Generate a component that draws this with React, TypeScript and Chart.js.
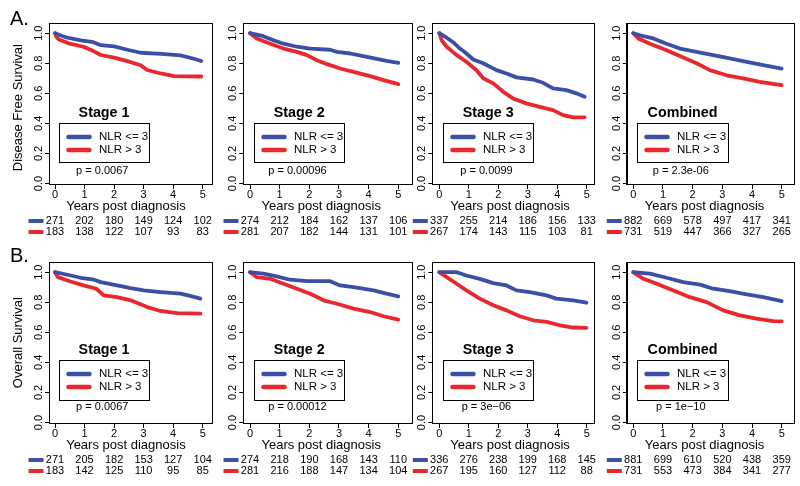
import React, { useEffect, useRef } from 'react';
import { Chart, registerables } from 'chart.js';

Chart.register(...registerables);

const FONT = '"Liberation Sans", Arial, Helvetica, sans-serif';
const BLUE = '#3b4fa6';
const RED = '#e8282c';

// ---------- labels ----------
const YEAR_TICKS = [0, 1, 2, 3, 4, 5];
const YEAR_TICK_LABELS = ['0', '1', '2', '3', '4', '5'];
const SURV_TICKS = [0, 0.2, 0.4, 0.6, 0.8, 1.0];
const SURV_TICK_LABELS = ['0.0', '0.2', '0.4', '0.6', '0.8', '1.0'];
const PANEL_TITLES = ['Stage 1', 'Stage 2', 'Stage 3', 'Combined'];
const ROW_LETTERS = ['A.', 'B.'];
const ROW_Y_TITLES = ['Disease Free Survival', 'Overall Survival'];
const LEGEND_LABELS = ['NLR <= 3', 'NLR > 3'];
const X_TITLE = 'Years post diagnosis';
const P_VALUES_DFS = ['p = 0.0067', 'p = 0.00096', 'p = 0.0099', 'p = 2.3e-06'];
const P_VALUES_OS = ['p = 0.0067', 'p = 0.00012', 'p = 3e\u221206', 'p = 1e\u221210'];

// ---------- curves: [years, survival] ----------
const dfsStage1Low = [[0, 1.0], [0.2, 0.985], [0.42, 0.97], [0.87, 0.953], [1.3, 0.94], [1.55, 0.92], [2.0, 0.912], [2.45, 0.89], [2.9, 0.87], [3.6, 0.862], [4.25, 0.852], [4.7, 0.83], [4.95, 0.815]];
const dfsStage1High = [[0, 1.0], [0.05, 0.975], [0.12, 0.96], [0.5, 0.93], [0.96, 0.91], [1.24, 0.887], [1.55, 0.855], [2.0, 0.838], [2.45, 0.814], [2.9, 0.787], [3.12, 0.755], [3.58, 0.732], [4.03, 0.715], [4.95, 0.712]];
const dfsStage2Low = [[0, 1.0], [0.45, 0.98], [0.79, 0.953], [1.13, 0.93], [1.58, 0.91], [2.03, 0.898], [2.7, 0.89], [2.93, 0.876], [3.38, 0.865], [3.94, 0.842], [4.6, 0.816], [5.0, 0.803]];
const dfsStage2High = [[0, 1.0], [0.23, 0.965], [0.68, 0.93], [1.13, 0.898], [1.58, 0.876], [1.92, 0.854], [2.25, 0.82], [2.6, 0.794], [3.04, 0.765], [3.49, 0.743], [4.05, 0.714], [4.5, 0.688], [5.0, 0.661]];
const dfsStage3Low = [[0, 1.0], [0.25, 0.97], [0.47, 0.94], [0.7, 0.898], [0.92, 0.865], [1.15, 0.825], [1.49, 0.8], [1.94, 0.754], [2.28, 0.732], [2.62, 0.706], [3.18, 0.692], [3.52, 0.67], [3.86, 0.633], [4.31, 0.621], [4.65, 0.6], [4.93, 0.577]];
const dfsStage3High = [[0, 1.0], [0.08, 0.953], [0.25, 0.91], [0.59, 0.854], [0.92, 0.81], [1.26, 0.754], [1.49, 0.7], [1.83, 0.666], [2.17, 0.61], [2.5, 0.566], [2.95, 0.533], [3.4, 0.51], [3.86, 0.488], [4.2, 0.455], [4.54, 0.44], [4.93, 0.44]];
const dfsCombinedLow = [[0, 1.0], [0.34, 0.98], [0.67, 0.965], [1.12, 0.93], [1.57, 0.898], [2.13, 0.876], [2.69, 0.854], [3.25, 0.832], [3.82, 0.81], [4.38, 0.787], [5.0, 0.765]];
const dfsCombinedHigh = [[0, 1.0], [0.17, 0.965], [0.56, 0.93], [1.12, 0.887], [1.68, 0.838], [2.13, 0.8], [2.58, 0.754], [3.14, 0.72], [3.7, 0.7], [4.26, 0.676], [5.0, 0.654]];

const osStage1Low = [[0, 1.0], [0.42, 0.983], [0.87, 0.963], [1.32, 0.95], [1.55, 0.934], [2.1, 0.912], [2.56, 0.894], [3.0, 0.879], [3.57, 0.868], [4.25, 0.857], [4.64, 0.839], [4.92, 0.824]];
const osStage1High = [[0, 1.0], [0.1, 0.967], [0.5, 0.94], [0.96, 0.912], [1.4, 0.89], [1.65, 0.846], [2.1, 0.834], [2.56, 0.813], [3.12, 0.768], [3.57, 0.742], [4.13, 0.728], [4.92, 0.724]];
const osStage2Low = [[0, 1.0], [0.45, 0.99], [0.9, 0.972], [1.35, 0.95], [1.92, 0.94], [2.7, 0.94], [3.04, 0.912], [3.49, 0.9], [4.17, 0.879], [4.6, 0.857], [5.0, 0.839]];
const osStage2High = [[0, 1.0], [0.23, 0.967], [0.68, 0.956], [1.13, 0.923], [1.58, 0.89], [2.03, 0.857], [2.48, 0.813], [2.93, 0.79], [3.49, 0.758], [4.05, 0.735], [4.5, 0.707], [5.0, 0.685]];
const osStage3Low = [[0, 1.0], [0.59, 1.0], [0.92, 0.978], [1.37, 0.956], [1.83, 0.927], [2.28, 0.912], [2.62, 0.879], [3.07, 0.868], [3.64, 0.846], [3.97, 0.824], [4.54, 0.813], [4.99, 0.797]];
const osStage3High = [[0, 1.0], [0.25, 0.967], [0.59, 0.923], [0.92, 0.879], [1.37, 0.824], [1.83, 0.78], [2.28, 0.746], [2.73, 0.707], [3.18, 0.68], [3.64, 0.669], [4.09, 0.647], [4.54, 0.632], [4.99, 0.63]];
const osCombinedLow = [[0, 1.0], [0.56, 0.99], [1.12, 0.963], [1.68, 0.934], [2.25, 0.917], [2.69, 0.89], [3.25, 0.874], [3.82, 0.852], [4.38, 0.834], [5.0, 0.808]];
const osCombinedHigh = [[0, 1.0], [0.34, 0.956], [0.79, 0.923], [1.35, 0.879], [1.91, 0.834], [2.47, 0.801], [3.03, 0.746], [3.59, 0.713], [4.15, 0.691], [4.71, 0.675], [5.0, 0.673]];

// ---------- numbers at risk ----------
const dfsRiskStage1Low = [271, 202, 180, 149, 124, 102];
const dfsRiskStage1High = [183, 138, 122, 107, 93, 83];
const dfsRiskStage2Low = [274, 212, 184, 162, 137, 106];
const dfsRiskStage2High = [281, 207, 182, 144, 131, 101];
const dfsRiskStage3Low = [337, 255, 214, 186, 156, 133];
const dfsRiskStage3High = [267, 174, 143, 115, 103, 81];
const dfsRiskCombinedLow = [882, 669, 578, 497, 417, 341];
const dfsRiskCombinedHigh = [731, 519, 447, 366, 327, 265];
const osRiskStage1Low = [271, 205, 182, 153, 127, 104];
const osRiskStage1High = [183, 142, 125, 110, 95, 85];
const osRiskStage2Low = [274, 218, 190, 168, 143, 110];
const osRiskStage2High = [281, 216, 188, 147, 134, 104];
const osRiskStage3Low = [336, 276, 238, 199, 168, 145];
const osRiskStage3High = [267, 195, 160, 127, 112, 88];
const osRiskCombinedLow = [881, 699, 610, 520, 438, 359];
const osRiskCombinedHigh = [731, 553, 473, 384, 341, 277];

// ---------- layout ----------
const CANVAS_W = 800;
const CANVAS_H = 247;
const AREA_TOP = 23.3;
const AREA_BOTTOM = 184;
const Y_MIN = -0.0033;
const Y_MAX = 1.0659;
const COLS = [
  { left: 49, right: 212, zeroPx: 55, fivePx: 202.7 },
  { left: 243.3, right: 412.3, zeroPx: 250, fivePx: 398.3 },
  { left: 432.3, right: 594.3, zeroPx: 439.3, fivePx: 586.7 },
  { left: 626.7, right: 794, zeroPx: 633.3, fivePx: 781.7 },
];
const ROWS = [
  { top: 0, letterBaseline: 25, yTitleShift: 4, titleS: 0.467, boxTopS: 0.405, boxBotS: 0.146, pS: 0.083 },
  { top: 239, letterBaseline: 22.7, yTitleShift: 0, titleS: 0.481, boxTopS: 0.416, boxBotS: 0.152, pS: 0.106 },
];

const PANELS = [
  { row: 0, col: 0, low: dfsStage1Low, high: dfsStage1High, riskLow: dfsRiskStage1Low, riskHigh: dfsRiskStage1High, p: P_VALUES_DFS[0] },
  { row: 0, col: 1, low: dfsStage2Low, high: dfsStage2High, riskLow: dfsRiskStage2Low, riskHigh: dfsRiskStage2High, p: P_VALUES_DFS[1] },
  { row: 0, col: 2, low: dfsStage3Low, high: dfsStage3High, riskLow: dfsRiskStage3Low, riskHigh: dfsRiskStage3High, p: P_VALUES_DFS[2] },
  { row: 0, col: 3, low: dfsCombinedLow, high: dfsCombinedHigh, riskLow: dfsRiskCombinedLow, riskHigh: dfsRiskCombinedHigh, p: P_VALUES_DFS[3] },
  { row: 1, col: 0, low: osStage1Low, high: osStage1High, riskLow: osRiskStage1Low, riskHigh: osRiskStage1High, p: P_VALUES_OS[0] },
  { row: 1, col: 1, low: osStage2Low, high: osStage2High, riskLow: osRiskStage2Low, riskHigh: osRiskStage2High, p: P_VALUES_OS[1] },
  { row: 1, col: 2, low: osStage3Low, high: osStage3High, riskLow: osRiskStage3Low, riskHigh: osRiskStage3High, p: P_VALUES_OS[2] },
  { row: 1, col: 3, low: osCombinedLow, high: osCombinedHigh, riskLow: osRiskCombinedLow, riskHigh: osRiskCombinedHigh, p: P_VALUES_OS[3] },
];

function makeAnnotations(panel: any) {
  const row = ROWS[panel.row];
  return {
    id: 'kmAnnotations',
    afterDraw(chart: any) {
      const { ctx, chartArea: a, scales } = chart;
      const xs = scales.x;
      const ys = scales.y;
      ctx.save();
      ctx.fillStyle = '#000';
      ctx.strokeStyle = '#000';
      ctx.lineWidth = 1;
      // plot box
      ctx.strokeRect(Math.round(a.left) + 0.5, Math.round(a.top) + 0.5, Math.round(a.right - a.left), Math.round(a.bottom - a.top));

      // y tick labels (rotated like R)
      ctx.font = `11px ${FONT}`;
      ctx.textAlign = 'center';
      ctx.textBaseline = 'middle';
      SURV_TICKS.forEach((v, i) => {
        ctx.save();
        ctx.translate(a.left - 10, ys.getPixelForValue(v));
        ctx.rotate(-Math.PI / 2);
        ctx.fillText(SURV_TICK_LABELS[i], 0, 0);
        ctx.restore();
      });

      // x tick labels
      YEAR_TICKS.forEach((v, i) => {
        ctx.fillText(YEAR_TICK_LABELS[i], xs.getPixelForValue(v), 195);
      });

      if (panel.col === 0) {
        ctx.font = `20px ${FONT}`;
        ctx.textAlign = 'left';
        ctx.textBaseline = 'alphabetic';
        ctx.fillText(ROW_LETTERS[panel.row], 10, row.letterBaseline);
        ctx.save();
        ctx.font = `13px ${FONT}`;
        ctx.textAlign = 'center';
        ctx.textBaseline = 'middle';
        ctx.translate(a.left - 31, (a.top + a.bottom) / 2 + row.yTitleShift);
        ctx.rotate(-Math.PI / 2);
        ctx.fillText(ROW_Y_TITLES[panel.row], 0, 0);
        ctx.restore();
      }

      // x title
      ctx.font = `13px ${FONT}`;
      ctx.textAlign = 'center';
      ctx.textBaseline = 'alphabetic';
      ctx.fillText(X_TITLE, xs.getPixelForValue(2.4), 210);

      // panel title
      ctx.font = `bold 14.3px ${FONT}`;
      ctx.textBaseline = 'middle';
      ctx.fillText(PANEL_TITLES[panel.col], xs.getPixelForValue(1.66), ys.getPixelForValue(row.titleS));

      // legend
      const bl = Math.round(xs.getPixelForValue(0.12)) + 0.5;
      const br = Math.round(xs.getPixelForValue(3.18)) + 0.5;
      const bt = Math.round(ys.getPixelForValue(row.boxTopS)) + 0.5;
      const bb = Math.round(ys.getPixelForValue(row.boxBotS)) + 0.5;
      ctx.lineWidth = 1;
      ctx.strokeRect(bl, bt, br - bl, bb - bt);
      const colors = [BLUE, RED];
      const offs = [13.5, 26.5];
      ctx.font = `11.5px ${FONT}`;
      ctx.textAlign = 'left';
      ctx.textBaseline = 'middle';
      colors.forEach((c, i) => {
        ctx.strokeStyle = c;
        ctx.lineWidth = 4.5;
        ctx.lineCap = 'round';
        ctx.beginPath();
        ctx.moveTo(bl + 9, bt + offs[i]);
        ctx.lineTo(bl + 30, bt + offs[i]);
        ctx.stroke();
        ctx.fillStyle = '#000';
        ctx.fillText(LEGEND_LABELS[i], bl + 39.5, bt + offs[i]);
      });

      // p-value
      ctx.font = `11px ${FONT}`;
      ctx.textAlign = 'center';
      ctx.fillText(panel.p, xs.getPixelForValue(1.6), ys.getPixelForValue(row.pS));

      // numbers at risk
      ctx.font = `11px ${FONT}`;
      const rowsY = [221, 232];
      [panel.riskLow, panel.riskHigh].forEach((vals: number[], r: number) => {
        const x0 = xs.getPixelForValue(0);
        ctx.strokeStyle = colors[r];
        ctx.lineWidth = 4;
        ctx.lineCap = 'butt';
        ctx.beginPath();
        ctx.moveTo(x0 - 26.5, rowsY[r]);
        ctx.lineTo(x0 - 11.5, rowsY[r]);
        ctx.stroke();
        ctx.fillStyle = '#000';
        vals.forEach((v, i) => {
          ctx.fillText(String(v), xs.getPixelForValue(YEAR_TICKS[i]), rowsY[r]);
        });
      });
      ctx.restore();
    },
  };
}

function Panel({ panel }: { panel: any }) {
  const ref = useRef<HTMLCanvasElement | null>(null);
  useEffect(() => {
    const canvas = ref.current;
    if (!canvas) return;
    const col = COLS[panel.col];
    const perYear = (col.fivePx - col.zeroPx) / 5;
    const xMin = (col.left - col.zeroPx) / perYear;
    const xMax = (col.right - col.zeroPx) / perYear;
    const toPts = (arr: number[][]) => arr.map(([x, y]) => ({ x, y }));
    const chart = new Chart(canvas, {
      type: 'line',
      data: {
        datasets: [
          { label: LEGEND_LABELS[0], data: toPts(panel.low), borderColor: BLUE, backgroundColor: BLUE, borderWidth: 3.8, pointRadius: 0, tension: 0, fill: false, borderCapStyle: 'round', borderJoinStyle: 'round' },
          { label: LEGEND_LABELS[1], data: toPts(panel.high), borderColor: RED, backgroundColor: RED, borderWidth: 3.8, pointRadius: 0, tension: 0, fill: false, borderCapStyle: 'round', borderJoinStyle: 'round' },
        ],
      } as any,
      options: {
        responsive: false,
        maintainAspectRatio: false,
        animation: false,
        events: [],
        layout: {
          padding: { left: col.left, right: CANVAS_W - col.right, top: AREA_TOP, bottom: CANVAS_H - AREA_BOTTOM },
        },
        plugins: { legend: { display: false }, tooltip: { enabled: false }, title: { display: false } },
        scales: {
          x: {
            type: 'linear',
            min: xMin,
            max: xMax,
            afterBuildTicks: (s: any) => { s.ticks = YEAR_TICKS.map((v) => ({ value: v })); },
            afterFit: (s: any) => { s.height = 0; },
            grid: { drawOnChartArea: false, drawTicks: true, tickLength: 5, color: '#000', lineWidth: 1 },
            border: { display: true, color: '#000', width: 1 },
            ticks: { display: false },
          },
          y: {
            type: 'linear',
            min: Y_MIN,
            max: Y_MAX,
            afterBuildTicks: (s: any) => { s.ticks = SURV_TICKS.map((v) => ({ value: v })); },
            afterFit: (s: any) => { s.width = 0; },
            grid: { drawOnChartArea: false, drawTicks: true, tickLength: 4, color: '#000', lineWidth: 1 },
            border: { display: true, color: '#000', width: 1 },
            ticks: { display: false },
          },
        },
      } as any,
      plugins: [makeAnnotations(panel)],
    });
    return () => chart.destroy();
  }, [panel]);
  return (
    <canvas
      ref={ref}
      width={CANVAS_W}
      height={CANVAS_H}
      style={{ position: 'absolute', left: 0, top: ROWS[panel.row].top, width: CANVAS_W, height: CANVAS_H }}
    />
  );
}

export default function App() {
  return (
    <div style={{ position: 'absolute', left: 0, top: 0, width: 800, height: 486, background: '#fff', overflow: 'hidden' }}>
      {PANELS.map((p, i) => (
        <Panel key={i} panel={p} />
      ))}
    </div>
  );
}
